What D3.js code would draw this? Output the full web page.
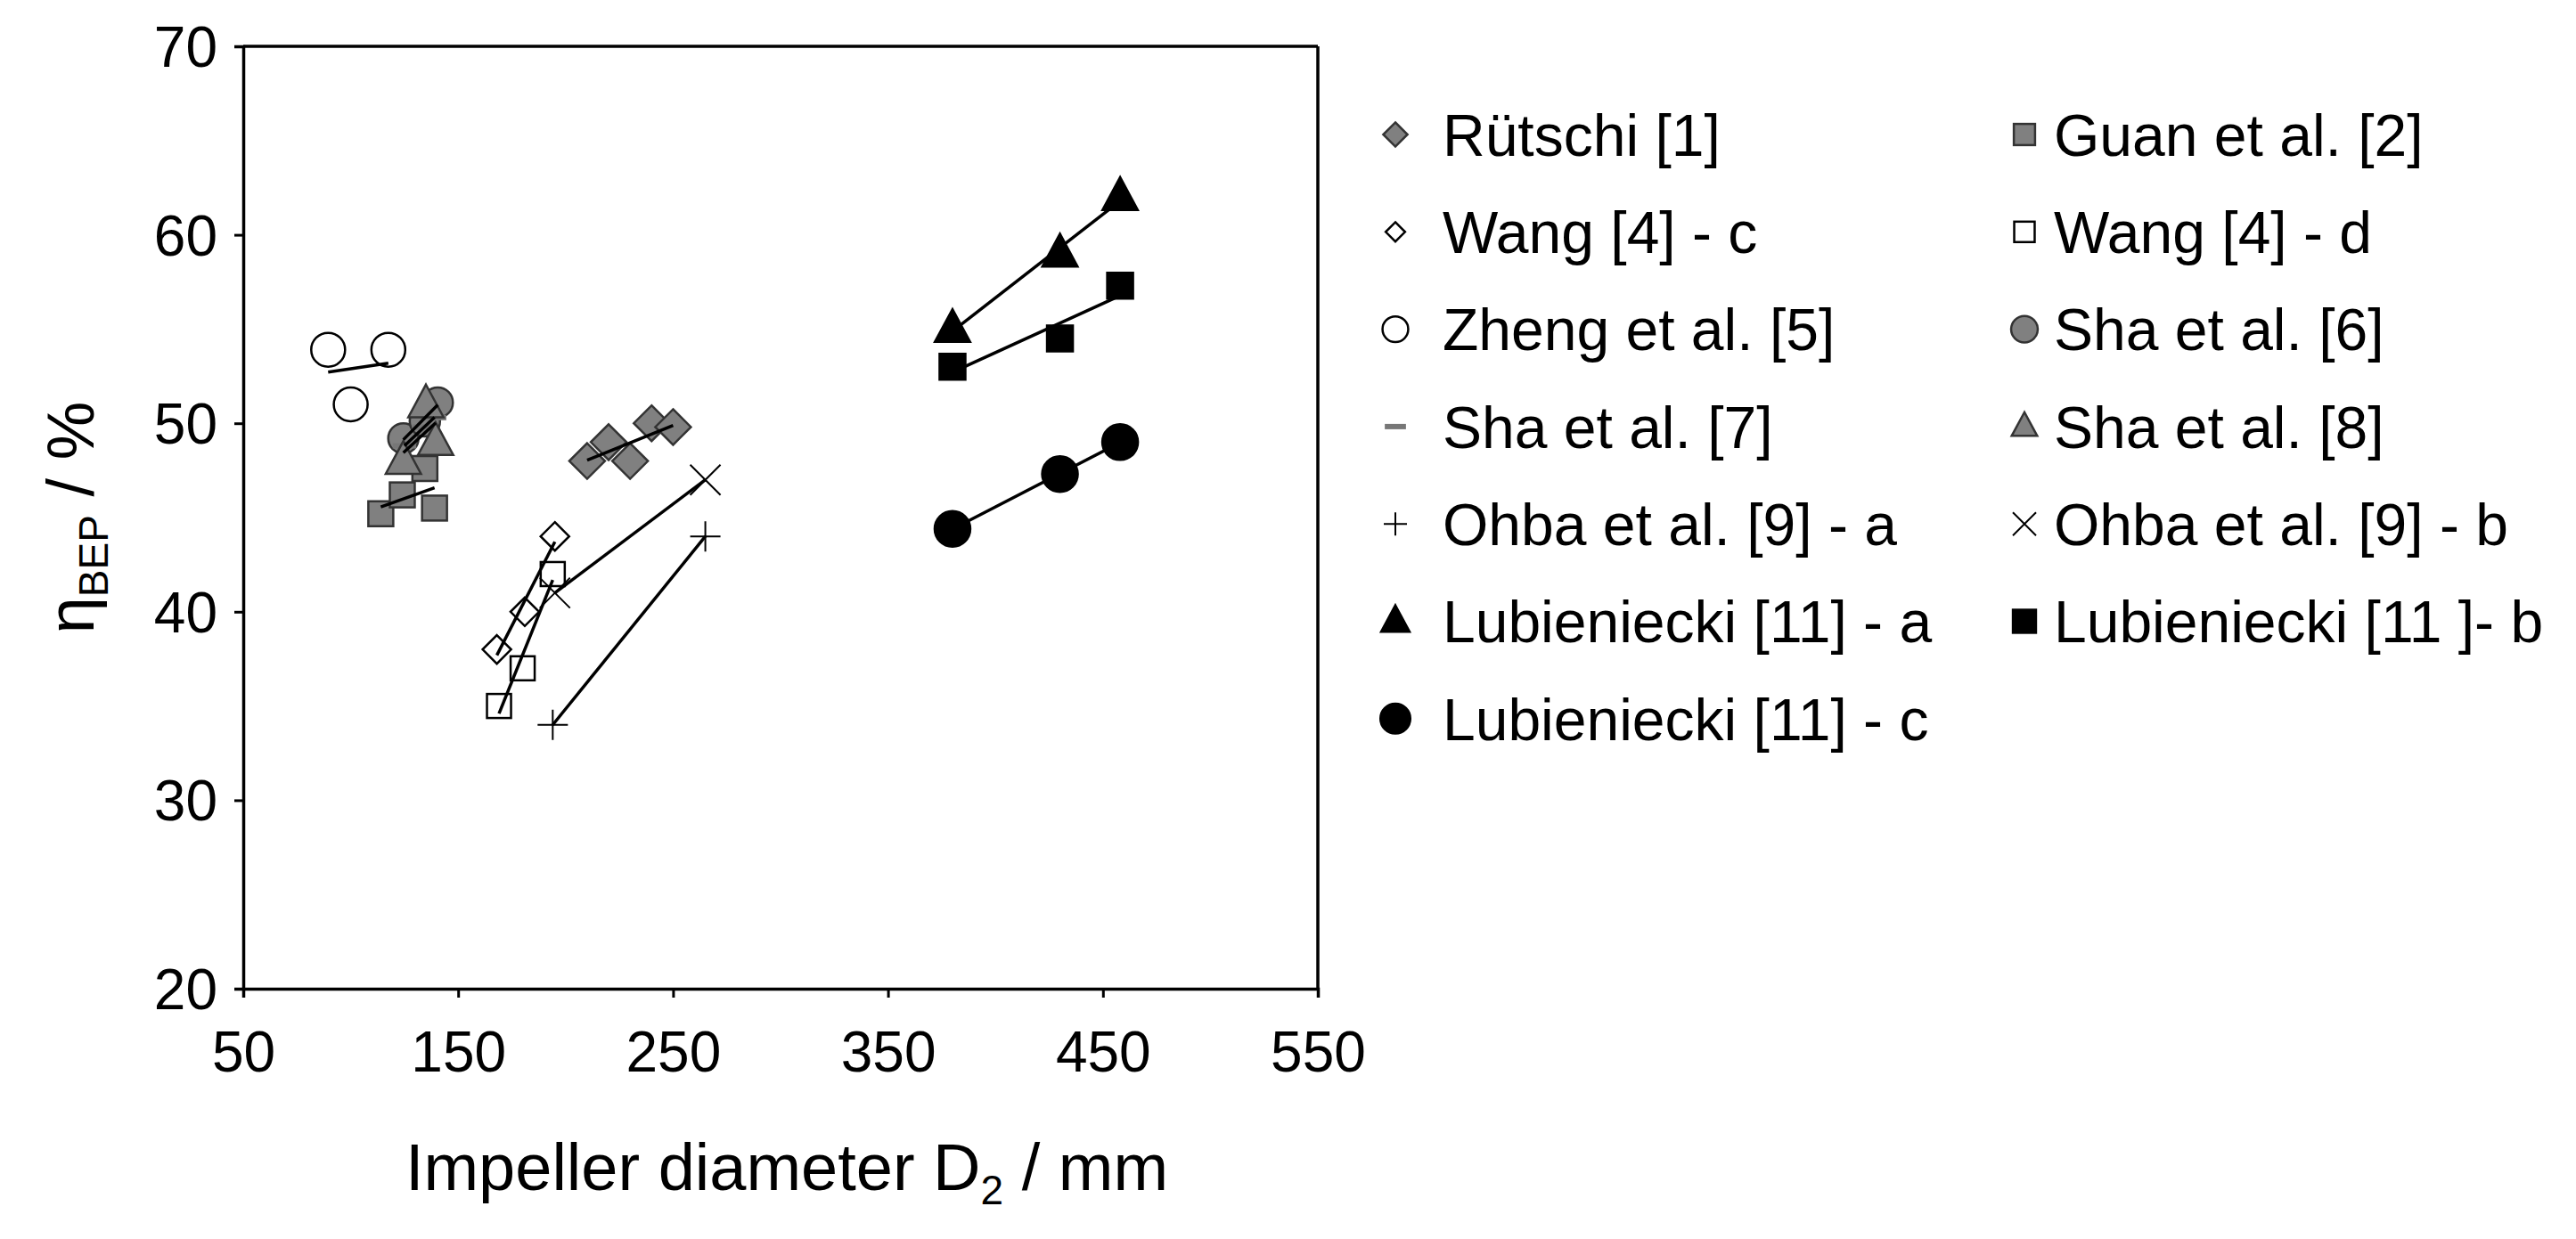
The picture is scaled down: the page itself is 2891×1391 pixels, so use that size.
<!DOCTYPE html>
<html><head><meta charset="utf-8">
<script src="https://cdn.jsdelivr.net/npm/d3@7"></script>
<style>body{margin:0;background:#fff}</style></head>
<body><svg id="c" width="2891" height="1391"></svg>
<script>
const xTicks=[50,150,250,350,450,550];
const yTicks=[20,30,40,50,60,70];
const rutschi=[[210,48],[220,49],[230,48],[240,50],[250,49.8]];
const guan=[[114,45.2],[124,46.2],[134.5,47.6],[139,45.5]];
const wangC=[[168,38],[181,40],[195,44]];
const wangD=[[169,35],[180,37],[194,42]];
const zheng=[[89.5,53.9],[117.5,53.9],[100,51]];
const sha6=[[124.5,49.2],[134.5,50.1],[140.5,51.1]];
const sha7=[[125,48.8],[134,49.8],[139,50.3]];
const sha8=[[124.5,48],[135,51],[139.5,49]];
const ohbaA=[[194,34],[265,44]];
const ohbaB=[[195,41],[265,47]];
const lubA=[[380,55],[430,59],[458,62]];
const lubB=[[380,53],[430,54.5],[458,57.3]];
const lubC=[[380,44.4],[430,47.3],[458,49]];
const series=[
 {name:"Rütschi [1]",data:rutschi,shape:"diamond",fill:"#808080",size:40},
 {name:"Guan et al. [2]",data:guan,shape:"square",fill:"#808080",size:28},
 {name:"Wang [4] - c",data:wangC,shape:"diamond",fill:"#fff",size:32},
 {name:"Wang [4] - d",data:wangD,shape:"square",fill:"#fff",size:27},
 {name:"Zheng et al. [5]",data:zheng,shape:"circle",fill:"#fff",size:19},
 {name:"Sha et al. [6]",data:sha6,shape:"circle",fill:"#808080",size:17},
 {name:"Sha et al. [7]",data:sha7,shape:"dash",fill:"#808080",size:12},
 {name:"Sha et al. [8]",data:sha8,shape:"triangle",fill:"#808080",size:36},
 {name:"Ohba et al. [9] - a",data:ohbaA,shape:"plus",fill:"none",size:34},
 {name:"Ohba et al. [9] - b",data:ohbaB,shape:"cross",fill:"none",size:34},
 {name:"Lubieniecki [11] - a",data:lubA,shape:"triangle",fill:"#000",size:36},
 {name:"Lubieniecki [11 ]- b",data:lubB,shape:"square",fill:"#000",size:29},
 {name:"Lubieniecki [11] - c",data:lubC,shape:"circle",fill:"#000",size:20}
];
const legScale=[0.8,1,0.8,1,0.95,1.1,1,0.85,0.9,0.9,0.95,1.05,1.05];
const svg=d3.select("#c");
const L=273,R=1479,T=52,B=1110;
const x=d3.scaleLinear().domain([50,550]).range([L,R]);
const y=d3.scaleLinear().domain([20,70]).range([B,T]);
const font="Liberation Sans, Arial, sans-serif";
function marker(g,s,cx,cy,scale){
  const k=scale||1, z=s.size*k;
  let el;
  if(s.shape==="circle") el=g.append("circle").attr("cx",cx).attr("cy",cy).attr("r",z);
  else if(s.shape==="square") el=g.append("rect").attr("x",cx-z/2).attr("y",cy-z/2).attr("width",z).attr("height",z);
  else if(s.shape==="diamond") el=g.append("path").attr("d",`M${cx},${cy-z/2}L${cx+z/2},${cy}L${cx},${cy+z/2}L${cx-z/2},${cy}Z`);
  else if(s.shape==="triangle") el=g.append("path").attr("d",`M${cx},${cy-z*0.62}L${cx+z*0.55},${cy+z*0.4}L${cx-z*0.55},${cy+z*0.4}Z`);
  else if(s.shape==="dash") el=g.append("rect").attr("x",cx-z*1.1).attr("y",cy-3).attr("width",z*2.2).attr("height",6).attr("stroke","none");
  else if(s.shape==="plus") el=g.append("path").attr("d",`M${cx-z/2},${cy}H${cx+z/2}M${cx},${cy-z/2}V${cy+z/2}`);
  else if(s.shape==="cross") el=g.append("path").attr("d",`M${cx-z/2},${cy-z/2}L${cx+z/2},${cy+z/2}M${cx+z/2},${cy-z/2}L${cx-z/2},${cy+z/2}`);
  el.attr("fill",s.fill==="none"?"none":s.fill);
  if(s.shape!=="dash") el.attr("stroke",s.fill==="#808080"?"#333":"#000").attr("stroke-width",s.shape==="plus"||s.shape==="cross"?2:2.5);
  else el.attr("fill","#777");
}
const xa=svg.append("g").attr("transform",`translate(0,${B})`).call(d3.axisBottom(x).tickValues(xTicks).tickSize(10).tickFormat(d3.format("d")));
const ya=svg.append("g").attr("transform",`translate(${L},0)`).call(d3.axisLeft(y).tickValues(yTicks).tickSize(10).tickFormat(d3.format("d")));
[xa,ya].forEach(a=>{a.select(".domain").attr("stroke-width",3.5);a.selectAll(".tick line").attr("stroke-width",3);
 a.selectAll("text").attr("font-family",font).attr("font-size",64).attr("fill","#000");});
xa.selectAll("text").attr("dy","1.25em");
ya.selectAll("text").attr("dx","-0.25em").attr("dy","0.35em");
svg.append("line").attr("x1",L).attr("x2",R).attr("y1",T).attr("y2",T).attr("stroke","#000").attr("stroke-width",3.5);
svg.append("line").attr("x1",R).attr("x2",R).attr("y1",T).attr("y2",B).attr("stroke","#000").attr("stroke-width",3.5);
const pg=svg.append("g");
series.forEach(s=>s.data.forEach(d=>marker(pg,s,x(d[0]),y(d[1]))));
const lg=svg.append("g");
series.forEach(s=>{
  const xs=s.data.map(d=>d[0]),ys=s.data.map(d=>d[1]);
  const mx=d3.mean(xs),my=d3.mean(ys);
  const b=d3.sum(s.data,d=>(d[0]-mx)*(d[1]-my))/d3.sum(s.data,d=>(d[0]-mx)**2);
  const a=my-b*mx,x0=d3.min(xs),x1=d3.max(xs);
  lg.append("line").attr("x1",x(x0)).attr("y1",y(a+b*x0)).attr("x2",x(x1)).attr("y2",y(a+b*x1)).attr("stroke","#000").attr("stroke-width",3.5);
});
svg.append("text").attr("x",883).attr("y",1336).attr("text-anchor","middle").attr("font-family",font).attr("font-size",74)
 .html('Impeller diameter D<tspan font-size="46" dy="16">2</tspan><tspan dy="-16"> / mm</tspan>');
svg.append("text").attr("transform",`translate(105,${(T+B)/2}) rotate(-90)`).attr("text-anchor","middle").attr("font-family",font).attr("font-size",74)
 .html('η<tspan font-size="46" dy="16">BEP</tspan><tspan dy="-16"> / %</tspan>');
const leg=svg.append("g");
series.forEach((s,i)=>{
  const col=i%2,row=Math.floor(i/2);
  const mx=col?2272:1566, ty=151+row*109.3;
  marker(leg,s,mx,ty,s.shape==="dash"?0.9:legScale[i]*(s.shape==="circle"?0.8:0.85));
  leg.append("text").attr("x",mx+(col?33:53)).attr("y",ty).attr("dy","0.36em").attr("font-family",font).attr("font-size",66).text(s.name);
});
</script></body></html>
